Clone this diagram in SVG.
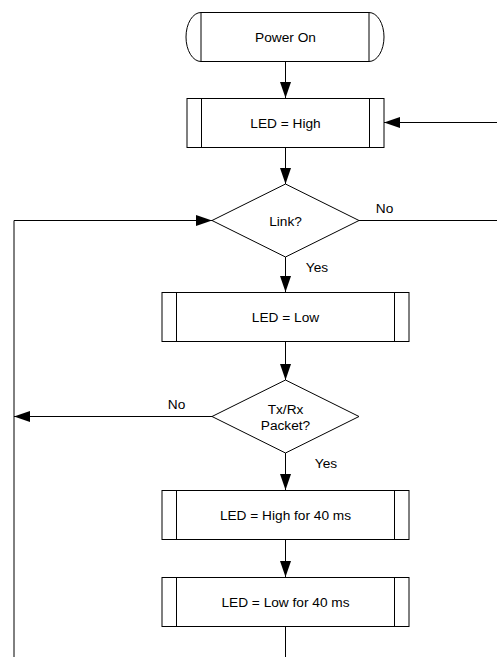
<svg xmlns="http://www.w3.org/2000/svg" width="497" height="657" viewBox="0 0 497 657">
<style>
.s{fill:#fff;stroke:#000;stroke-width:1}
.l{fill:none;stroke:#000;stroke-width:1}
.c{fill:none;stroke:#000;stroke-width:1}
text{font-family:"Liberation Sans",Arial,sans-serif;font-size:13.7px;fill:#000}
.m{text-anchor:middle}
</style>
<defs>
<marker id="arr" viewBox="0 0 16 11" refX="16" refY="5.5" markerWidth="16" markerHeight="11" markerUnits="userSpaceOnUse" orient="auto">
<path d="M0,0 L16,5.5 L0,11 Z" fill="#000"/>
</marker>
</defs>
<rect width="497" height="657" fill="#fff"/>
<g id="connectors">
<path class="c" d="M285.5,61 V98" marker-end="url(#arr)"/>
<path class="c" d="M497,122.5 H384" marker-end="url(#arr)"/>
<path class="c" d="M285.5,147 V184" marker-end="url(#arr)"/>
<path class="c" d="M359,220.5 H497"/>
<path class="c" d="M14,657 V220.5 H212" marker-end="url(#arr)"/>
<path class="c" d="M285.5,257 V292" marker-end="url(#arr)"/>
<path class="c" d="M285.5,341 V380" marker-end="url(#arr)"/>
<path class="c" d="M212,416.5 H14" marker-end="url(#arr)"/>
<path class="c" d="M285.5,453 V490" marker-end="url(#arr)"/>
<path class="c" d="M285.5,539 V577" marker-end="url(#arr)"/>
<path class="c" d="M285.5,626 V657"/>
<text class="m" x="384.5" y="213">No</text>
<text class="m" x="317" y="272">Yes</text>
<text class="m" x="176.5" y="409">No</text>
<text class="m" x="326" y="467.5">Yes</text>
</g>
<g id="power-on">
<path class="s" d="M201,12.5 H369 A15,24.5 0 0 1 369,61.5 H201 A15,24.5 0 0 1 201,12.5 Z"/>
<path class="l" d="M201,12.5 V61.5 M369,12.5 V61.5"/>
<text class="m" x="285.5" y="41.5">Power On</text>
</g>
<g id="led-high">
<rect class="s" x="187" y="98.5" width="197" height="49"/>
<path class="l" d="M201.5,98.5 V147.5 M369.5,98.5 V147.5"/>
<text class="m" x="285.5" y="127.5">LED = High</text>
</g>
<g id="link">
<path class="s" d="M285.5,184 L359,220.5 L285.5,257 L212,220.5 Z"/>
<text class="m" x="285.5" y="225.5">Link?</text>
</g>
<g id="led-low">
<rect class="s" x="162" y="292.5" width="247" height="49"/>
<path class="l" d="M176.5,292.5 V341.5 M394.5,292.5 V341.5"/>
<text class="m" x="285.5" y="321.5">LED = Low</text>
</g>
<g id="txrx">
<path class="s" d="M285.5,380 L359,416.5 L285.5,453 L212,416.5 Z"/>
<text class="m" x="285.5" y="414">Tx/Rx</text>
<text class="m" x="285.5" y="430">Packet?</text>
</g>
<g id="led-high-40">
<rect class="s" x="162" y="490.5" width="247" height="49"/>
<path class="l" d="M176.5,490.5 V539.5 M394.5,490.5 V539.5"/>
<text class="m" x="285.5" y="519.5">LED = High for 40 ms</text>
</g>
<g id="led-low-40">
<rect class="s" x="162" y="577.5" width="247" height="49"/>
<path class="l" d="M176.5,577.5 V626.5 M394.5,577.5 V626.5"/>
<text class="m" x="285.5" y="606.5">LED = Low for 40 ms</text>
</g>
</svg>
